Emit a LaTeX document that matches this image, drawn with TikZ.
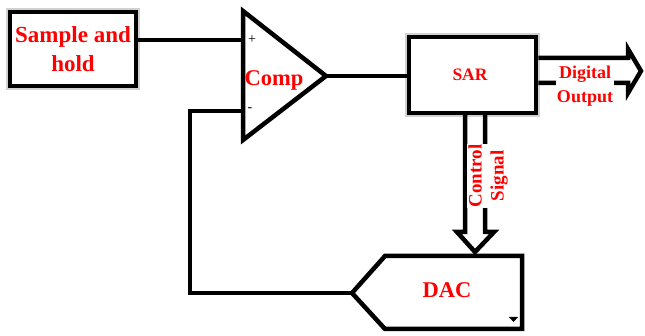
\documentclass[tikz,border=0pt]{standalone}
\usepackage{fontspec}
\setmainfont{Liberation Serif}
\begin{document}
\begin{tikzpicture}[x=1pt,y=-1pt,
  wire/.style={line width=4.5pt,black},
  blk/.style={draw,line width=4.5pt,fill=white,inner sep=0pt},
  lbl/.style={text=red,font=\bfseries,align=center,inner sep=0pt},
  shadowbox/.style={draw=black!30,line width=8pt,opacity=0.6},
  sign/.style={font=\fontsize{14}{14}\selectfont,inner sep=0pt}]
\useasboundingbox (0,0) rectangle (645,336);
% shadows
\draw[shadowbox] (10,12) rectangle (136,86);
\draw[shadowbox] (409,37) rectangle (536,113);
% Sample and hold
\node[blk,minimum width=126pt,minimum height=74pt] (sh) at (73,49) {};
\node[lbl,font=\bfseries\fontsize{23}{29}\selectfont] (shl) at (73,49) {Sample and\\hold};
% Comparator
\coordinate (cA) at (243,11);
\coordinate (cB) at (243,140);
\coordinate (cout) at (326,76);
\coordinate (cplus) at (243,40);
\coordinate (cminus) at (243,111);
\draw[wire,line join=miter,fill=white] (cA) -- (cout) -- (cB) -- cycle;
\node[sign] (plus) at (252,40) {+};
\node[sign] (minus) at (250,110) {-};
\node[lbl,font=\bfseries\fontsize{22.5}{22.5}\selectfont] (comp) at (274,80) {Comp};
% SAR
\node[blk,minimum width=127pt,minimum height=76pt] (sar) at (472.5,75) {};
\node[lbl,font=\bfseries\fontsize{17.5}{17.5}\selectfont] (sarl) at (470,75) {SAR};
% DAC
\coordinate (dtip) at (352,293);
\draw[wire,line join=miter,fill=white] (dtip) -- (385,256) -- (522,256) -- (522,329) -- (385,329) -- cycle;
\node[lbl,font=\bfseries\fontsize{22.5}{22.5}\selectfont] (dac) at (447,290) {DAC};
\fill (509,317) -- (518,317) -- (513.5,322) -- cycle;
% connections
\draw[wire] (sh.east |- cplus) -- (cplus);
\draw[wire] (cout) -- (sar.west |- cout);
\draw[wire,line join=miter] (cminus) -- (190,111) -- (190,293) -- (dtip);
% Digital output hollow arrow
\draw[wire,line join=miter] (sar.east |- 0,58) -- (628,58) -- (628,49) -- (641,71) -- (628,93) -- (628,83) -- (sar.east |- 0,83);
\node[lbl,fill=white,inner sep=1pt,font=\bfseries\fontsize{18}{24}\selectfont] (dout) at (585,86) {Digital\\Output};
% Control signal hollow arrow
\draw[wire,line join=miter] (sar.south -| 465,0) -- (465,232) -- (457,232) -- (475,252) -- (494,232) -- (485,232) -- (sar.south -| 485,0);
\node[lbl,fill=white,inner sep=1pt,rotate=90,font=\bfseries\fontsize{19}{22}\selectfont] (ctrl) at (488,176) {Control\\Signal};
\end{tikzpicture}
\end{document}
